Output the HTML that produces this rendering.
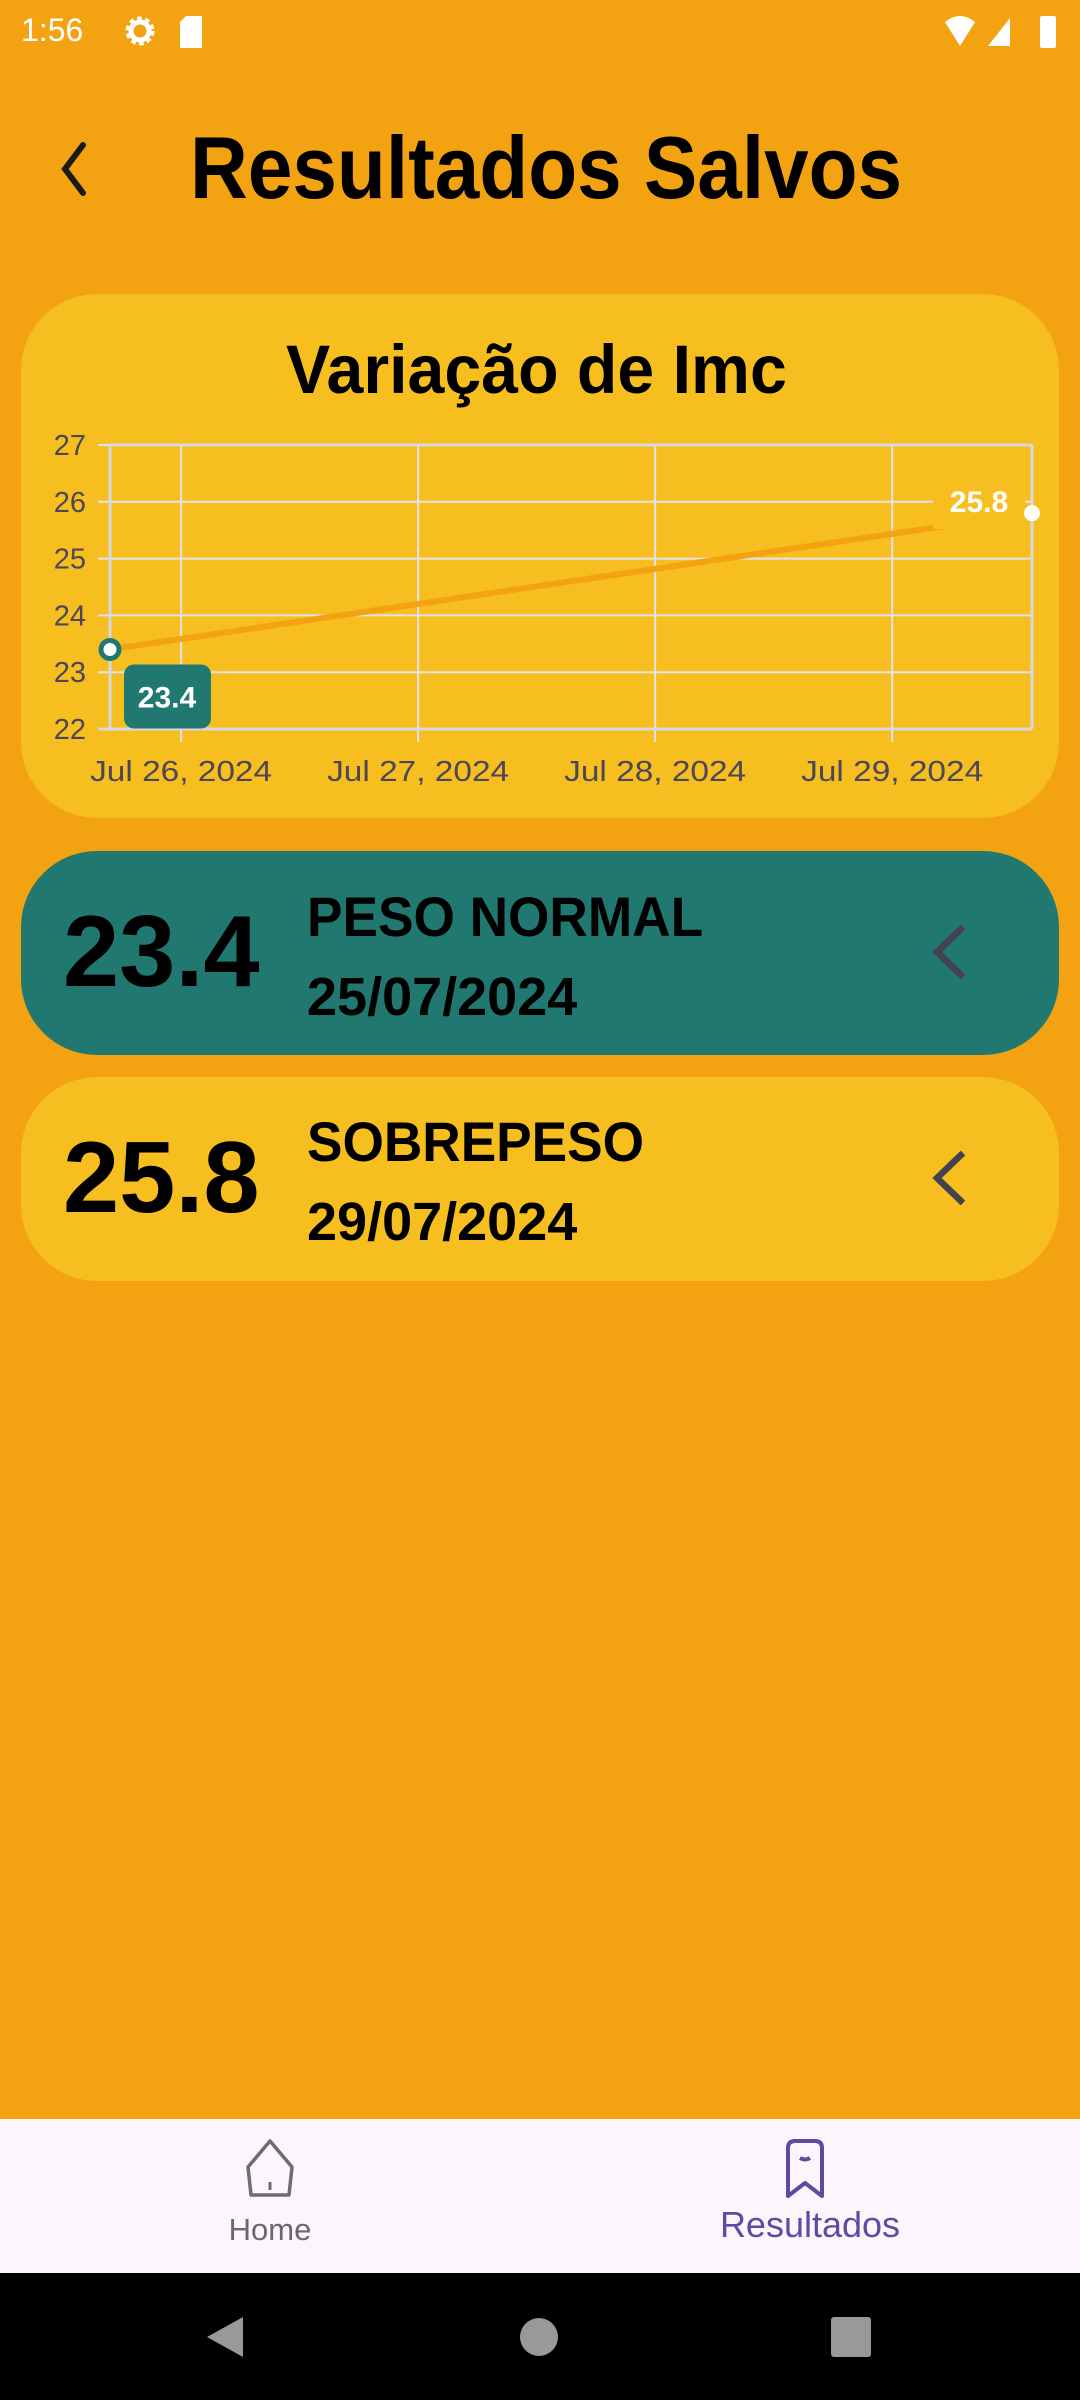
<!DOCTYPE html>
<html><head><meta charset="utf-8">
<style>
*{margin:0;padding:0;box-sizing:border-box}
body{width:1080px;height:2400px;background:#F3A312;position:relative;overflow:hidden;font-family:"Liberation Sans",sans-serif}
.abs{position:absolute}
.t{white-space:nowrap;transform-origin:left top}
</style></head><body>
<div class="abs t" style="left:21px;top:12px;font-size:32px;color:#fff">1:56</div>
<svg class="abs" style="left:120px;top:12px" width="100" height="40">
<circle cx="20" cy="19" r="11" fill="none" stroke="#fff" stroke-width="7" stroke-dasharray="4 3"/><circle cx="20" cy="19" r="9" fill="none" stroke="#fff" stroke-width="5"/>
<path d="M66 4h16v32h-22v-26z" fill="#fff"/></svg>
<svg class="abs" style="left:940px;top:12px" width="130" height="40">
<path d="M5 10q15-12 30 0l-15 24z" fill="#fff"/><path d="M48 34l22-28v28z" fill="#fff"/><rect x="100" y="4" width="16" height="32" rx="2" fill="#fff"/></svg>

<svg class="abs" style="left:55px;top:140px" width="40" height="60"><path d="M28 5L10 29l18 24" fill="none" stroke="#1a1a1a" stroke-width="6" stroke-linecap="round"/></svg>
<div class="abs t" style="left:190px;top:117px;font-size:88px;font-weight:bold;color:#000;transform:scaleX(0.91)">Resultados Salvos</div>

<div class="abs" style="left:21px;top:294px;width:1038px;height:524px;background:#F6BE1F;border-radius:76px"></div>
<div class="abs t" style="left:286px;top:330px;font-size:69px;font-weight:bold;transform:scaleX(0.96)">Variação de Imc</div>
<svg class="abs" id="chart" style="left:0;top:0" width="1080" height="830"></svg>

<div class="abs" style="left:21px;top:851px;width:1038px;height:204px;background:#217870;border-radius:76px"></div>
<div class="abs t" style="left:63px;top:895px;font-size:101px;font-weight:bold">23.4</div>
<div class="abs t" style="left:307px;top:884px;font-size:56px;font-weight:bold;transform:scaleX(0.95)">PESO NORMAL</div>
<div class="abs t" style="left:307px;top:966px;font-size:54px;font-weight:bold">25/07/2024</div>
<svg class="abs" style="left:925px;top:922px" width="45" height="60"><path d="M38 5L12 30l26 25" fill="none" stroke="#444150" stroke-width="6.5"/></svg>

<div class="abs" style="left:21px;top:1077px;width:1038px;height:204px;background:#F6BE1F;border-radius:76px"></div>
<div class="abs t" style="left:63px;top:1121px;font-size:101px;font-weight:bold">25.8</div>
<div class="abs t" style="left:307px;top:1109px;font-size:56px;font-weight:bold;transform:scaleX(0.95)">SOBREPESO</div>
<div class="abs t" style="left:307px;top:1191px;font-size:54px;font-weight:bold">29/07/2024</div>
<svg class="abs" style="left:925px;top:1148px" width="45" height="60"><path d="M38 5L12 30l26 25" fill="none" stroke="#444150" stroke-width="6.5"/></svg>

<div class="abs" style="left:0;top:2119px;width:1080px;height:154px;background:#FCF5FC"></div>
<svg class="abs" style="left:236px;top:2136px" width="70" height="66"><path d="M34 5L56 31l-3 28H15l-3-28z" fill="none" stroke="#706a72" stroke-width="3.5" stroke-linejoin="round"/><path d="M34 46v8" stroke="#706a72" stroke-width="3"/></svg>
<div class="abs t" style="left:0;width:540px;text-align:center;top:2212px;font-size:31px;color:#6b6670">Home</div>
<svg class="abs" style="left:780px;top:2136px" width="60" height="66"><path d="M8 12q0-7 7-7h20q7 0 7 7v48l-17-13-17 13z" fill="none" stroke="#5E4BA0" stroke-width="4" stroke-linejoin="round"/><path d="M20 22q5 3 10 0" stroke="#5E4BA0" stroke-width="4" fill="none"/></svg>
<div class="abs t" style="left:540px;width:540px;text-align:center;top:2204px;font-size:36px;color:#5E4BA0">Resultados</div>

<div class="abs" style="left:0;top:2273px;width:1080px;height:127px;background:#000"></div>
<svg class="abs" style="left:0;top:2273px" width="1080" height="127">
<path d="M243 44v40l-36-20z" fill="#999"/><circle cx="539" cy="64" r="19" fill="#999"/><rect x="831" y="44" width="40" height="40" rx="3" fill="#999"/></svg>

<script>
const dayValues = [25.70, 29.59];
const imcValues = [23.4, 25.8];
const imcLabels = ["23.4", "25.8"];
const yTicks = [22, 23, 24, 25, 26, 27];
const xTickDays = [26, 27, 28, 29];
const xTickLabels = ["Jul 26, 2024", "Jul 27, 2024", "Jul 28, 2024", "Jul 29, 2024"];

const svg = document.getElementById('chart');
const NS = 'http://www.w3.org/2000/svg';
const L = 110, R = 1032, T = 445, B = 729;
const xMin = Math.min(...dayValues), xMax = Math.max(...dayValues);
const yMin = yTicks[0], yMax = yTicks[yTicks.length - 1];
const xs = d => L + (d - xMin) / (xMax - xMin) * (R - L);
const ys = v => B - (v - yMin) / (yMax - yMin) * (B - T);
function mk(tag, attrs, text) {
  const e = document.createElementNS(NS, tag);
  for (const k in attrs) e.setAttribute(k, attrs[k]);
  if (text !== undefined) e.textContent = text;
  svg.appendChild(e);
  return e;
}
yTicks.forEach((t, i) => {
  const g = mk('line', {x1: 98, x2: R, y1: ys(t), y2: ys(t), stroke: '#e4e2ec', 'stroke-width': 2});
  
  
  const lb = mk('text', {x: 86, y: ys(t) + 10, 'text-anchor': 'end', 'font-size': 29, fill: '#4b4757', 'font-family': 'Liberation Sans'}, String(t));
  
  
});
xTickDays.forEach((d, i) => {
  const g = mk('line', {x1: xs(d), x2: xs(d), y1: T, y2: 742, stroke: '#e4e2ec', 'stroke-width': 2});
  
  
  const lb = mk('text', {x: xs(d), y: 781, 'text-anchor': 'middle', 'font-size': 29, fill: '#4b4757', 'font-family': 'Liberation Sans', textLength: 182, lengthAdjust: 'spacingAndGlyphs'}, xTickLabels[i]);
  
  
});
[[L, T, L, B + 2], [R, T, R, B], [L, T, R, T], [98, B, R, B]].forEach(a => {
  const ax = mk('line', {x1: a[0], y1: a[1], x2: a[2], y2: a[3], stroke: '#d8d6e0', 'stroke-width': 3});
  
  
});
const pts = dayValues.map((d, i) => xs(d) + ',' + ys(imcValues[i])).join(' ');
const line = mk('polyline', {points: pts, fill: 'none', stroke: '#F3A312', 'stroke-width': 6});


const n = dayValues.length - 1;
const bg = mk('rect', {x: xs(dayValues[n]) - 99, y: ys(imcValues[n]) - 34, width: 92, height: 50, fill: '#F6BE1F'});


const lt = mk('text', {x: xs(dayValues[n]) - 53, y: ys(imcValues[n]) - 1, 'text-anchor': 'middle', 'font-size': 30, 'font-weight': 'bold', fill: '#fff', 'font-family': 'Liberation Sans'}, imcLabels[n]);


const tb = mk('rect', {x: xs(dayValues[0]) + 14, y: ys(imcValues[0]) + 15, width: 87, height: 64, rx: 10, fill: '#217870'});


const tt = mk('text', {x: xs(dayValues[0]) + 57, y: ys(imcValues[0]) + 58, 'text-anchor': 'middle', 'font-size': 30, 'font-weight': 'bold', fill: '#fff', 'font-family': 'Liberation Sans'}, imcLabels[0]);


dayValues.forEach((d, i) => {
  if (i === 0) {
    const c = mk('circle', {cx: xs(d), cy: ys(imcValues[i]), r: 9, fill: '#fff', stroke: '#217870', 'stroke-width': 5});
    
    
  } else {
    const c = mk('circle', {cx: xs(d), cy: ys(imcValues[i]), r: 8, fill: '#fff'});
    
    
  }
});
</script>
</body></html>
